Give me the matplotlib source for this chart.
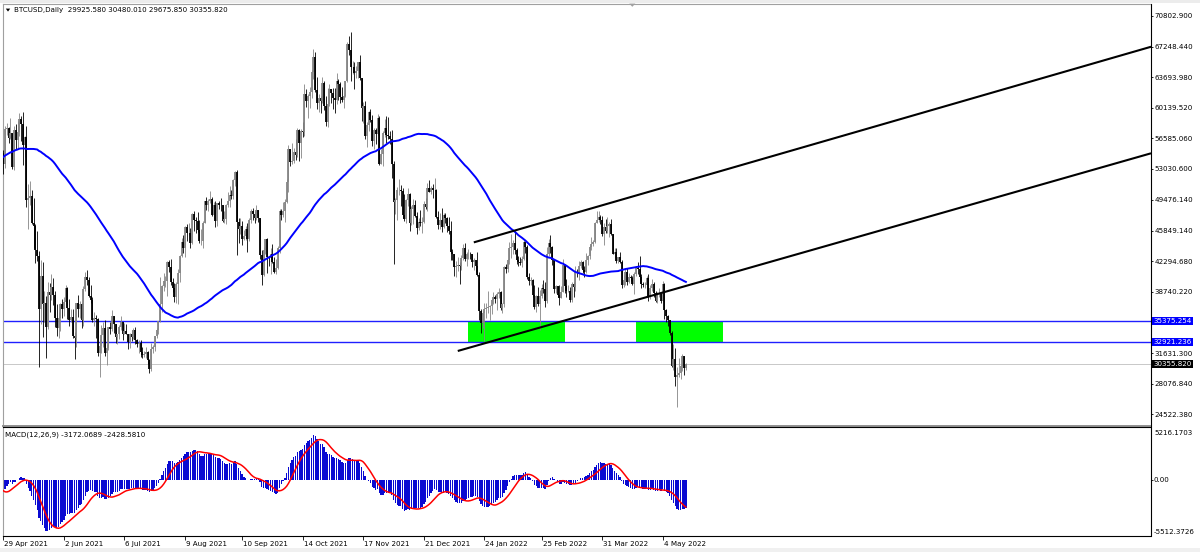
import datetime as dt
import numpy as np
import pandas as pd
import matplotlib
matplotlib.use("Agg")
import matplotlib.pyplot as plt
import matplotlib.transforms as mtransforms
from matplotlib.patches import Rectangle, Polygon

# ---------------- data (prices in thousands of USD) ----------------
first_day = dt.date(2021, 4, 29)

# closes 1 Feb 2021 .. 28 Apr 2021 (history used for the indicators)
pre_close = [
    33.5, 35.5, 37.6, 36.9, 38.3, 39.2, 38.9, 46.2, 46.5, 44.8, 47.9, 47.4, 47.2, 48.7, 47.9, 49.1, 52.1, 51.6, 55.9, 55.9,
    57.4, 54.1, 48.9, 49.7, 47.1, 46.3, 46.2, 45.1,
    49.6, 48.4, 50.5, 48.4, 48.8, 48.9, 51.0, 52.4, 54.9, 55.9, 57.8, 57.3, 61.2, 59.0, 55.6, 56.9, 58.9, 57.6, 58.3, 58.1,
    57.4, 54.5, 54.3, 52.3, 51.3, 55.1, 55.9, 55.8, 57.6, 58.8, 58.8,
    58.7, 59.0, 57.1, 58.2, 59.1, 58.0, 56.0, 58.1, 58.1, 59.8, 59.8, 59.9, 63.6, 62.9, 63.2, 61.5, 60.1, 56.3, 55.7, 56.5,
    53.8, 51.7, 51.2, 50.1, 49.1, 54.0, 55.0, 54.9,
]

# daily bars 29 Apr 2021 .. 17 May 2022
close = [
    53.6, 57.7,
    57.8, 56.6, 57.2, 53.2, 57.5, 56.4, 57.3, 58.8, 58.2, 55.8, 56.7, 49.4, 49.7, 49.9, 46.7, 46.4, 43.6, 42.9, 36.7, 40.6,
    37.3, 37.5, 34.7, 38.7, 38.4, 39.3, 38.4, 35.7, 34.6, 35.7, 37.3,
    36.7, 37.6, 39.2, 36.9, 35.5, 35.8, 33.6, 33.4, 37.4, 36.7, 37.3, 35.5, 39.1, 40.5, 40.1, 38.3, 37.8, 35.5, 35.7, 35.6,
    31.6, 32.5, 33.7, 34.6, 31.6, 32.2, 34.7, 34.4, 35.9, 35.0,
    33.5, 33.8, 34.7, 35.3, 33.9, 34.2, 33.8, 32.9, 33.8, 33.5, 34.3, 33.1, 32.7, 32.8, 31.8, 31.4, 31.5, 31.8, 30.8, 29.8,
    32.1, 32.3, 33.6, 34.3, 35.4, 37.3, 39.4, 40.0, 40.0, 42.2, 41.6,
    39.9, 39.2, 38.2, 39.7, 40.9, 42.9, 44.6, 43.8, 46.3, 45.6, 45.6, 44.4, 47.8, 47.1, 47.0, 45.9, 44.7, 44.7, 46.8, 49.3,
    48.9, 49.3, 49.5, 47.7, 48.9, 47.0, 49.1, 48.9, 48.8, 47.0, 47.2,
    48.8, 49.3, 50.0, 49.9, 51.8, 52.7, 46.9, 46.1, 46.4, 44.9, 45.2, 46.1, 44.9, 47.1, 48.1, 47.8, 47.3, 48.3, 47.3, 43.0,
    40.7, 43.6, 44.9, 42.8, 42.7, 43.2, 42.2, 41.0, 41.5, 43.8,
    48.1, 47.7, 48.2, 49.2, 51.5, 55.3, 53.8, 53.9, 55.0, 54.7, 57.5, 56.0, 57.4, 57.3, 61.7, 60.9, 61.5, 62.0, 64.3, 66.0,
    62.2, 60.7, 61.3, 60.9, 63.0, 60.4, 58.5, 60.6, 62.3, 61.9, 61.3,
    61.0, 63.3, 62.9, 61.4, 61.0, 61.5, 63.3, 67.5, 66.9, 64.9, 64.9, 64.2, 64.4, 65.5, 63.6, 60.1, 60.3, 56.9, 58.1, 59.7,
    58.7, 56.3, 57.5, 57.1, 58.9, 53.6, 54.8, 57.2, 57.8, 57.0,
    56.9, 56.5, 53.6, 49.2, 49.4, 50.6, 50.6, 50.5, 47.7, 47.2, 49.4, 50.1, 46.7, 48.4, 48.9, 47.6, 46.2, 46.9, 46.7, 46.9,
    49.0, 48.6, 50.8, 50.4, 50.8, 50.6, 50.6, 47.5, 46.5, 47.1, 46.3,
    47.7, 47.3, 46.4, 45.8, 43.4, 43.1, 41.6, 41.8, 41.9, 41.8, 42.7, 43.9, 42.6, 43.1, 43.2, 43.1, 42.2, 42.4, 41.7, 40.7,
    36.5, 35.1, 36.3, 36.7, 36.9, 37.0, 37.1, 37.8, 38.2, 37.9, 38.5,
    38.7, 36.9, 37.3, 41.6, 41.4, 42.4, 43.8, 44.0, 44.4, 43.6, 42.4, 42.2, 42.1, 42.6, 44.6, 44.0, 40.5, 40.0, 40.1, 38.4,
    37.0, 38.3, 37.3, 38.3, 39.2, 39.1, 37.7, 43.2,
    44.4, 44.0, 42.5, 39.1, 39.4, 38.4, 38.0, 38.7, 41.9, 39.4, 38.8, 38.8, 37.8, 39.7, 39.3, 41.1, 40.9, 41.8, 42.2, 41.3,
    41.0, 42.4, 42.9, 44.0, 44.3, 44.5, 46.8, 47.1, 47.5, 47.1, 45.5,
    46.3, 45.8, 46.4, 46.6, 45.5, 43.2, 43.4, 42.3, 42.8, 42.2, 39.5, 40.1, 41.1, 39.9, 40.5, 40.4, 39.7, 40.8, 41.5, 41.4,
    40.5, 39.7, 39.5, 39.5, 40.4, 38.1, 39.2, 39.7, 38.6, 37.7,
    38.5, 38.5, 37.7, 39.7, 36.6, 36.0, 35.5, 34.0, 30.1, 31.0, 28.9, 29.1, 29.3, 30.1, 31.3, 29.93, 30.35582,
]

high = [
    55.2, 58.0,
    58.4, 57.9, 58.9, 57.2, 58.0, 58.3, 58.6, 59.5, 59.2, 59.6, 56.9, 58.0, 51.3, 51.6, 50.6, 49.7, 46.6, 45.8, 43.5, 42.5,
    42.2, 38.8, 38.3, 39.9, 39.8, 40.8, 40.4, 38.8, 37.3, 36.4, 37.5,
    37.9, 38.2, 39.5, 39.3, 37.9, 36.8, 36.8, 34.1, 37.5, 38.4, 37.7, 37.4, 39.4, 41.0, 41.3, 40.5, 39.5, 38.2, 36.4, 36.1,
    35.7, 33.3, 34.9, 35.2, 35.5, 32.7, 34.7, 35.3, 36.6, 36.0,
    35.0, 33.9, 34.9, 35.9, 35.3, 35.1, 35.0, 33.9, 34.0, 34.3, 34.6, 34.7, 33.3, 33.1, 33.2, 32.3, 31.9, 32.4, 31.9, 31.0,
    32.8, 32.6, 33.6, 34.5, 35.4, 40.5, 39.5, 40.9, 40.6, 42.3, 42.4,
    42.6, 40.4, 39.8, 39.9, 41.4, 43.0, 45.0, 45.3, 46.4, 46.6, 46.7, 46.2, 47.9, 48.1, 47.4, 48.0, 47.1, 46.0, 47.0, 49.3,
    49.8, 49.5, 50.5, 49.8, 49.2, 49.3, 49.1, 49.3, 49.7, 48.9, 48.2,
    49.0, 50.4, 51.0, 50.6, 51.9, 52.8, 52.9, 47.3, 47.3, 47.0, 45.9, 46.4, 46.8, 47.3, 48.4, 48.5, 48.1, 48.8, 48.3, 47.3,
    43.6, 44.0, 44.9, 45.0, 42.9, 43.9, 44.3, 42.8, 42.6, 44.1,
    48.4, 48.4, 49.2, 49.5, 51.9, 55.8, 55.3, 56.1, 55.5, 56.5, 57.8, 57.7, 57.7, 58.5, 62.9, 62.3, 61.7, 62.6, 64.5, 67.0,
    66.6, 63.7, 61.7, 61.5, 63.7, 63.3, 61.5, 62.4, 62.9, 62.3, 62.4,
    62.4, 64.2, 63.5, 63.1, 62.6, 61.6, 63.3, 67.8, 68.5, 69.0, 65.6, 65.5, 65.0, 65.5, 66.3, 63.6, 60.8, 60.9, 58.5, 59.8,
    60.0, 59.3, 57.8, 57.8, 59.4, 59.2, 55.3, 57.4, 58.8, 59.2,
    59.1, 57.4, 57.6, 53.9, 49.7, 50.9, 51.9, 51.2, 50.8, 50.1, 49.5, 50.8, 50.2, 48.7, 49.5, 49.4, 48.0, 47.3, 48.3, 47.5,
    49.3, 49.6, 51.4, 51.8, 51.1, 51.3, 52.0, 50.7, 48.1, 47.9, 48.5,
    47.9, 47.9, 47.5, 47.5, 47.0, 43.7, 43.1, 42.3, 42.8, 42.2, 43.0, 44.3, 44.4, 43.4, 43.7, 43.4, 43.2, 42.7, 42.5, 43.4,
    41.1, 36.8, 36.5, 37.5, 37.5, 38.9, 37.2, 38.0, 38.7, 38.4, 38.7,
    39.2, 38.9, 37.4, 41.7, 42.0, 42.6, 44.5, 45.5, 44.8, 45.8, 43.9, 42.9, 42.8, 42.9, 44.8, 44.6, 44.2, 40.9, 40.5, 40.2,
    39.5, 38.4, 39.3, 39.0, 39.7, 40.1, 39.9, 44.0,
    44.9, 45.4, 44.1, 42.5, 39.6, 39.4, 39.5, 39.4, 42.6, 42.0, 40.2, 39.5, 39.3, 39.9, 39.9, 41.7, 41.4, 42.3, 42.4, 42.3,
    41.7, 43.3, 43.0, 44.2, 45.1, 44.8, 46.9, 48.2, 48.1, 47.7, 47.6,
    46.7, 47.2, 47.4, 46.9, 47.2, 45.5, 43.9, 43.9, 42.8, 43.4, 42.4, 40.7, 41.5, 41.5, 40.9, 40.7, 40.6, 41.1, 41.7, 42.2,
    42.9, 40.8, 39.9, 39.9, 40.6, 40.8, 39.5, 40.3, 39.9, 38.8,
    38.7, 39.2, 38.6, 40.0, 39.8, 36.7, 36.1, 35.5, 34.2, 32.7, 32.2, 30.0, 31.1, 30.3, 31.5, 31.3, 30.48001,
]

low = [
    52.4, 53.1,
    57.0, 56.0, 56.5, 53.0, 52.9, 55.3, 55.3, 56.9, 56.3, 53.5, 54.4, 48.6, 46.0, 48.8, 46.6, 43.8, 42.1, 42.3, 30.0, 35.0,
    33.5, 35.3, 31.1, 34.4, 36.4, 37.8, 37.2, 34.7, 33.6, 33.4, 34.2,
    35.7, 35.9, 37.2, 35.6, 34.8, 35.3, 33.4, 31.0, 32.4, 35.8, 35.7, 34.6, 34.8, 38.8, 39.5, 38.1, 37.4, 35.2, 34.8, 33.4,
    31.3, 28.8, 31.7, 32.4, 31.3, 30.2, 32.0, 33.9, 34.2, 34.0,
    32.8, 32.7, 33.3, 34.3, 33.2, 33.8, 33.8, 32.1, 32.2, 33.0, 33.3, 32.7, 32.3, 31.6, 31.2, 31.1, 31.2, 31.1, 30.4, 29.3,
    29.5, 31.7, 31.9, 33.4, 33.9, 35.3, 36.4, 38.8, 39.3, 38.3, 41.1,
    39.5, 38.7, 37.6, 37.5, 37.3, 39.9, 42.8, 43.3, 42.8, 44.7, 45.4, 43.8, 44.3, 45.8, 45.6, 45.7, 44.4, 44.2, 43.9, 46.7,
    48.3, 48.1, 49.1, 47.6, 47.2, 46.3, 46.4, 48.4, 48.1, 46.9, 46.7,
    46.6, 48.6, 48.6, 49.5, 49.5, 51.0, 43.0, 44.4, 45.5, 44.2, 44.8, 44.8, 43.4, 44.7, 46.8, 47.1, 46.8, 47.1, 46.9, 42.6,
    39.6, 40.6, 43.1, 40.9, 41.7, 40.8, 42.1, 40.9, 40.8, 41.4,
    43.3, 47.1, 47.4, 46.9, 49.1, 50.4, 53.4, 53.6, 53.7, 54.1, 54.4, 54.0, 54.3, 56.8, 56.9, 60.2, 58.9, 60.1, 61.3, 63.5,
    62.0, 60.0, 59.7, 59.5, 60.7, 59.9, 58.0, 57.9, 60.3, 60.7, 60.0,
    59.5, 60.6, 61.0, 60.7, 60.8, 60.1, 61.4, 63.1, 66.3, 63.3, 64.1, 62.3, 63.6, 63.6, 63.4, 58.6, 58.4, 56.5, 55.6, 57.4,
    58.5, 55.7, 55.4, 55.9, 57.0, 53.5, 53.6, 53.4, 56.8, 56.1,
    56.5, 55.9, 52.0, 42.0, 47.8, 47.1, 50.0, 48.7, 47.3, 47.0, 46.8, 48.7, 45.8, 46.5, 46.6, 47.5, 45.5, 45.9, 46.4, 45.6,
    46.7, 48.4, 48.1, 50.4, 50.1, 49.6, 50.5, 47.3, 46.1, 46.0, 45.7,
    46.2, 46.7, 45.7, 45.5, 42.5, 42.5, 40.6, 40.5, 41.2, 39.7, 41.3, 42.5, 42.3, 41.8, 42.6, 42.6, 41.6, 41.3, 41.1, 40.6,
    35.5, 34.0, 34.6, 33.0, 35.7, 36.3, 35.5, 36.2, 37.3, 37.4, 36.6,
    38.0, 36.6, 36.3, 37.0, 40.9, 41.1, 42.0, 42.7, 43.2, 43.2, 42.0, 41.8, 41.9, 41.6, 42.4, 43.3, 40.2, 39.5, 39.6, 38.1,
    36.8, 36.4, 37.1, 34.3, 38.0, 38.6, 37.0, 37.4,
    42.9, 43.3, 41.9, 38.6, 38.6, 38.1, 37.2, 38.0, 38.7, 38.6, 38.2, 38.7, 37.6, 37.6, 38.1, 38.9, 40.5, 40.1, 41.5, 40.9,
    40.5, 40.9, 41.9, 42.6, 43.6, 44.1, 44.4, 46.7, 46.9, 46.6, 45.2,
    44.2, 45.6, 45.6, 45.1, 45.4, 43.1, 42.7, 42.1, 42.1, 42.1, 39.2, 39.3, 39.6, 39.6, 39.8, 40.0, 39.6, 38.5, 40.6, 40.8,
    39.8, 39.2, 39.3, 39.2, 38.2, 37.7, 37.9, 38.9, 38.2, 37.6,
    37.4, 38.1, 37.5, 37.7, 35.6, 35.3, 34.8, 33.7, 30.0, 29.7, 27.8, 25.4, 28.8, 28.6, 29.5, 29.1, 29.67585,
]
last_open = 29.92558

tick_dates = ["2021-04-29", "2021-06-02", "2021-07-06", "2021-08-09", "2021-09-10", "2021-10-14",
              "2021-11-17", "2021-12-21", "2022-01-24", "2022-02-25", "2022-03-31", "2022-05-04"]
tick_labels = ["29 Apr 2021", "2 Jun 2021", "6 Jul 2021", "9 Aug 2021", "10 Sep 2021", "14 Oct 2021",
               "17 Nov 2021", "21 Dec 2021", "24 Jan 2022", "25 Feb 2022", "31 Mar 2022", "4 May 2022"]

price_ticks = [70802.900, 67248.440, 63693.980, 60139.520, 56585.060, 53030.600, 49476.140,
               45849.140, 42294.680, 38740.220, 31631.300, 28076.840, 24522.380]
price_tick_labels = ["70802.900", "67248.440", "63693.980", "60139.520", "56585.060", "53030.600", "49476.140",
                     "45849.140", "42294.680", "38740.220", "31631.300", "28076.840", "24522.380"]

level_hi, level_hi_label = 35375.254, "35375.254"
level_lo, level_lo_label = 32921.236, "32921.236"
bid, bid_label = 30355.820, "30355.820"

zones = [("2022-01-15", "2022-03-10"), ("2022-04-19", "2022-06-07")]
channel_upper = [("2022-01-18", 44500.0), ("2023-02-02", 67230.0)]
channel_lower = [("2022-01-09", 31880.0), ("2023-02-02", 54850.0)]

header = "BTCUSD,Daily  29925.580 30480.010 29675.850 30355.820"
macd_label = "MACD(12,26,9) -3172.0689 -2428.5810"
macd_top, macd_top_label = 5216.1703, "5216.1703"
macd_bottom, macd_bottom_label = -5512.3726, "-5512.3726"
MA_PERIOD = 79

# ---------------- helpers ----------------
assert len(close) == len(high) == len(low) == 384
assert len(pre_close) == 87


def day(s):
    return (dt.date.fromisoformat(s) - first_day).days


W, H = 1200, 552
PX_DAY = 1.7822
X0 = 3.3


def fx(px):
    return px / W


def fy(py):
    return 1 - py / H


c = np.array(close) * 1000
hi = np.array(high) * 1000
lo = np.array(low) * 1000
o = np.array([pre_close[-1]] + close[:-1]) * 1000
o[-1] = last_open * 1000
days = np.arange(len(c))

allc = np.array(pre_close + close) * 1000
P = len(pre_close)

plt.rcParams["font.family"] = ["DejaVu Sans"]
fig = plt.figure(figsize=(12, 5.52), dpi=100)
fig.patch.set_facecolor("white")
FS = 5.1

# ---------------- main price panel ----------------
ax = fig.add_axes([fx(2.5), fy(425.5), fx(1148), 421.5 / H])
xl = ((2.5 - X0) / PX_DAY, (1150.5 - X0) / PX_DAY)
ax.set_xlim(*xl)
slope = (70802.9 - 24522.38) / (414.3 - 16.0)
ax.set_ylim(24522.38 - (425.5 - 414.3) * slope, 70802.9 + (16.0 - 4.0) * slope)

for z0, z1 in zones:
    ax.add_patch(Rectangle((day(z0), level_lo), day(z1) - day(z0), level_hi - level_lo,
                           facecolor="#00ff00", edgecolor="none", zorder=1))

ax.axhline(bid, color="#c8c8c8", lw=0.7, zorder=1.5)
ax.axhline(level_hi, color="#2020ff", lw=1.0, zorder=2)
ax.axhline(level_lo, color="#2020ff", lw=1.0, zorder=2)

up = c >= o
cols = np.where(up, "#858585", "#000000")
ax.vlines(days, lo, hi, colors=cols, linewidth=0.6, zorder=3)
ax.vlines(days, np.minimum(o, c), np.maximum(o, c), colors=cols, linewidth=1.3, zorder=3)

ma = pd.Series(allc).rolling(MA_PERIOD).mean().values[P:]
ax.plot(days, ma, color="#0000ff", lw=1.4, zorder=4)

for (d0, p0), (d1, p1) in (channel_upper, channel_lower):
    ax.plot([day(d0), day(d1)], [p0, p1], color="black", lw=1.5, zorder=5, solid_capstyle="butt")

for s in ("left", "top"):
    ax.spines[s].set_color("#a0a0a0")
ax.spines["right"].set_color("black")
ax.spines["bottom"].set_color("#909090")
ax.spines["bottom"].set_linewidth(1.4)
ax.set_xticks([])
ax.yaxis.tick_right()
ax.set_yticks(price_ticks)
ax.set_yticklabels(price_tick_labels)
ax.tick_params(axis="y", length=1.5, width=0.6, pad=1.3, labelsize=FS, colors="black")

bt = mtransforms.blended_transform_factory(ax.transAxes, ax.transData)
for val, lab, fc in ((level_hi, level_hi_label, "#0000ff"), (level_lo, level_lo_label, "#0000ff"),
                     (bid, bid_label, "#000000")):
    ax.text(1 + 3.2 / 1148, val, lab, transform=bt, ha="left", va="center", fontsize=FS, color="white",
            bbox=dict(boxstyle="square,pad=0.18", fc=fc, ec="none"), zorder=10, clip_on=False)

# ---------------- MACD panel ----------------
s = pd.Series(allc)
main = s.ewm(span=12, adjust=False).mean() - s.ewm(span=26, adjust=False).mean()
signal = main.rolling(9).mean()
mv = main.values[P:]
sv = signal.values[P:]

ax2 = fig.add_axes([fx(2.5), fy(536), fx(1148), 109 / H])
ax2.set_xlim(*xl)
ax2.set_ylim(macd_bottom, macd_top)
ax2.bar(days, mv, width=0.72, color="#0a0ad2", linewidth=0, zorder=2)
ax2.plot(days, sv, color="#ff0000", lw=1.1, zorder=3)
for sp in ("top", "right", "bottom"):
    ax2.spines[sp].set_color("black")
ax2.spines["left"].set_color("#a0a0a0")
ax2.yaxis.tick_right()
ax2.set_yticks([0])
ax2.set_yticklabels([""])
ax2.tick_params(axis="y", length=1.5, width=0.6)
ax2.set_xticks([day(d) for d in tick_dates])
ax2.set_xticklabels([""] * len(tick_dates))
ax2.tick_params(axis="x", length=3, width=0.6, colors="black")

bt2 = mtransforms.blended_transform_factory(ax2.transAxes, ax2.transData)
ax2.text(1 + 3.5 / 1148, 0, "0.00", transform=bt2, ha="left", va="center", fontsize=FS)
fig.text(fx(1154), fy(433), macd_top_label, ha="left", va="center", fontsize=FS)
fig.text(fx(1154), fy(532), macd_bottom_label, ha="left", va="center", fontsize=FS)
fig.text(fx(5), fy(435), macd_label, ha="left", va="center", fontsize=FS)

bx = mtransforms.blended_transform_factory(ax2.transData, fig.transFigure)
bx_off = mtransforms.offset_copy(bx, fig=fig, x=1.0, y=0, units="dots")
for d, lab in zip(tick_dates, tick_labels):
    fig.text(day(d), fy(544), lab, transform=bx_off, ha="left", va="center", fontsize=FS)

# ---------------- window chrome ----------------
fig.text(fx(14), fy(10), header, ha="left", va="center", fontsize=FS)
fig.patches.append(Polygon([(fx(5.8), fy(8.6)), (fx(10.2), fy(8.6)), (fx(8.0), fy(11.6))],
                           closed=True, transform=fig.transFigure, fc="black", ec="none"))
fig.patches.append(Polygon([(fx(629.3), fy(3.6)), (fx(635.3), fy(3.6)), (fx(632.3), fy(6.8))],
                           closed=True, transform=fig.transFigure, fc="#a0a0a0", ec="none"))
fig.patches.append(Rectangle((0, fy(3.3)), 1, 3.3 / H, transform=fig.transFigure, fc="#ececec", ec="none", zorder=-1))
fig.patches.append(Rectangle((0, 0), 1, 4 / H, transform=fig.transFigure, fc="#f0f0f0", ec="none", zorder=-1))

fig.savefig("out.png", dpi=100)
